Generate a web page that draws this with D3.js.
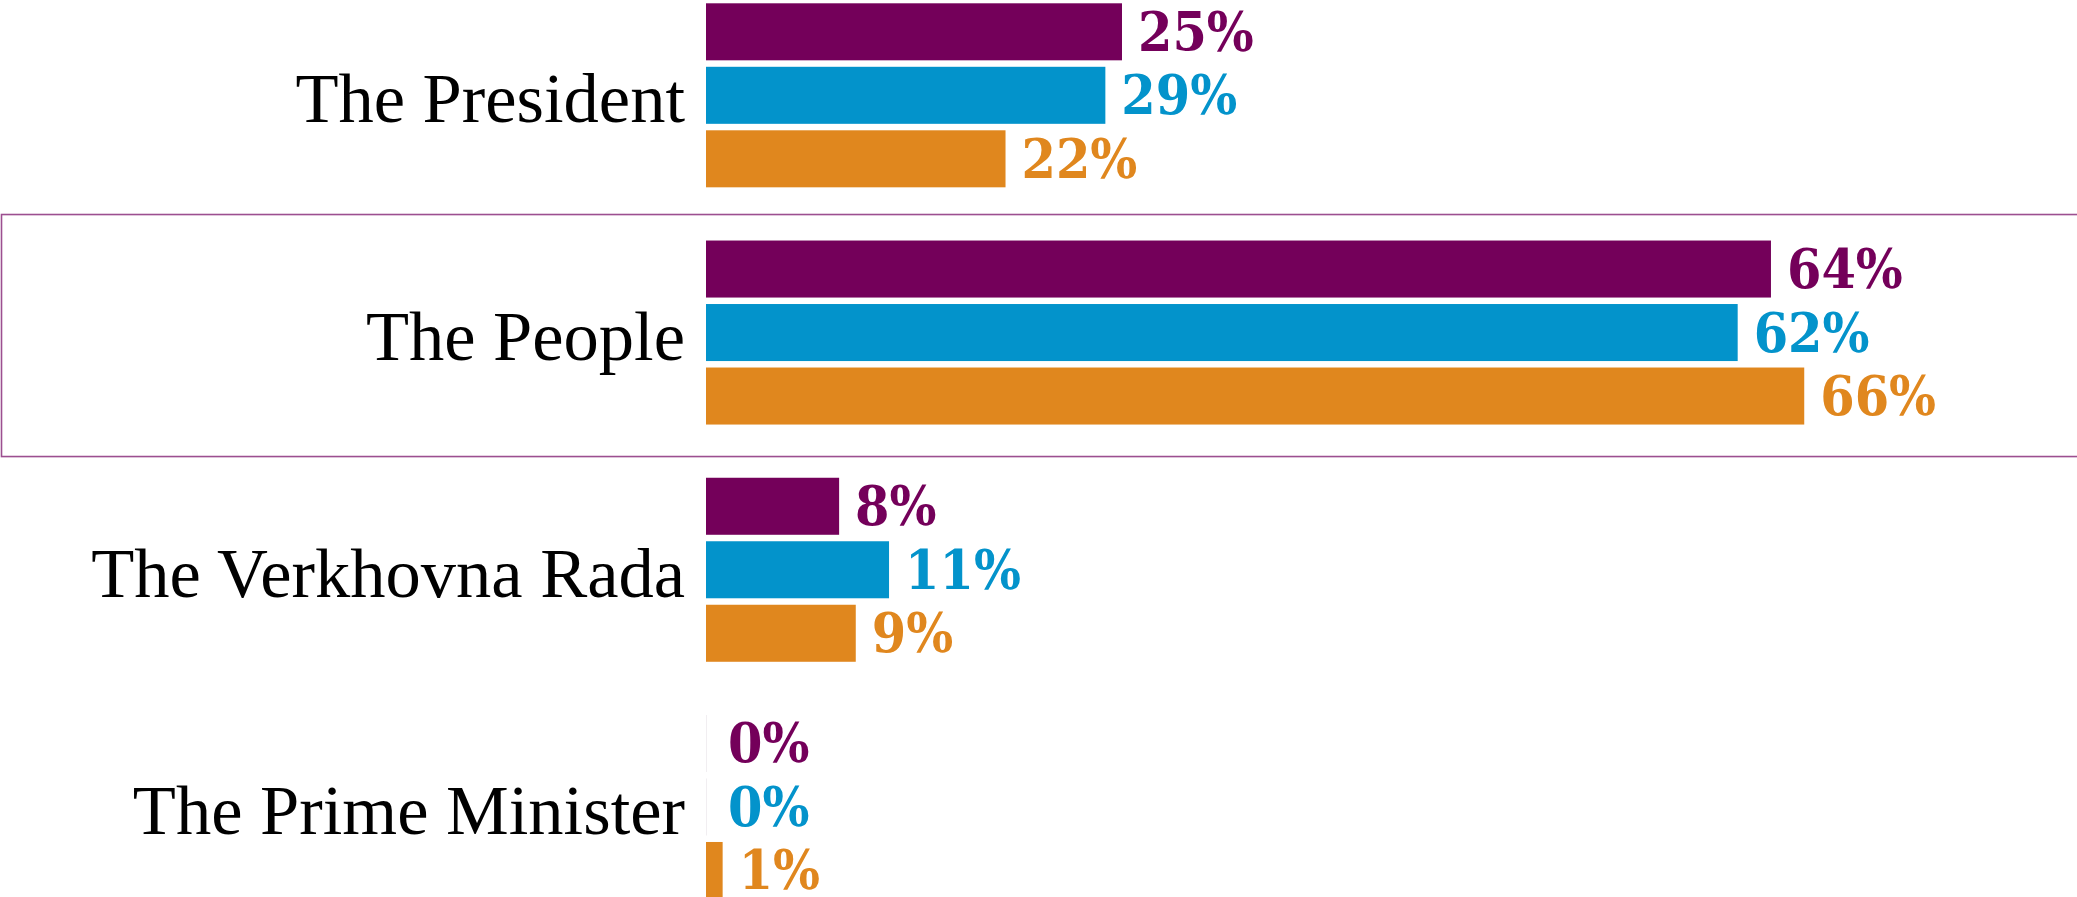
<!DOCTYPE html>
<html>
<head>
<meta charset="utf-8">
<script src="https://cdn.jsdelivr.net/npm/d3@7"></script>
<style>
  body { margin: 0; background: #fff; }
  svg { display: block; }
  .cat-label { font-family: "Liberation Serif", "Times New Roman", serif; font-size: 70.5px; fill: #000; }
  .value-label { font-family: "DejaVu Serif Condensed", "DejaVu Serif", serif; font-weight: bold; font-size: 55px; }
</style>
</head>
<body>
<div id="chart"></div>
<script>
const width = 2077;
const height = 897;

const categories = ["The President", "The People", "The Verkhovna Rada", "The Prime Minister"];
const series = ["s1", "s2", "s3"];

// bar lengths as drawn (percent)
const s1Values = [25, 64, 8, 0];
const s2Values = [24, 62, 11, 0];
const s3Values = [18, 66, 9, 1];

// labels as printed next to the bars
const s1Labels = ["25%", "64%", "8%", "0%"];
const s2Labels = ["29%", "62%", "11%", "0%"];
const s3Labels = ["22%", "66%", "9%", "1%"];

const highlighted = "The People";

const seriesColors = {
  s1: "#74005a",
  s2: "#0393cb",
  s3: "#e0871e",
};

const valuesBySeries = { s1: s1Values, s2: s2Values, s3: s3Values };
const labelsBySeries = { s1: s1Labels, s2: s2Labels, s3: s3Labels };

const rows = categories.flatMap((cat, i) =>
  series.map(s => ({
    category: cat,
    series: s,
    value: valuesBySeries[s][i],
    label: labelsBySeries[s][i],
  }))
);

const svg = d3
  .select("#chart")
  .append("svg")
  .attr("width", width)
  .attr("height", height);

const x = d3.scaleLinear().domain([0, 100]).range([706, 706 + 1664]);

const y = d3
  .scaleBand()
  .domain(categories)
  .range([3.3, 899])
  .paddingInner(0.2243)
  .paddingOuter(0);

const yInner = d3
  .scaleBand()
  .domain(series)
  .range([0, y.bandwidth()])
  .paddingInner(0.102);

// highlight box round one category
svg.append("rect")
  .attr("x", 1.5)
  .attr("y", y(highlighted) - 26)
  .attr("width", width + 10)
  .attr("height", y.bandwidth() + 58)
  .attr("fill", "none")
  .attr("stroke", "#9c4f90")
  .attr("stroke-width", 1.6);

svg.selectAll(".cat-label")
  .data(categories)
  .join("text")
  .attr("class", "cat-label")
  .attr("x", 685)
  .attr("y", d => y(d) + y.bandwidth() / 2 + 27)
  .attr("text-anchor", "end")
  .text(d => d);

// faint hairline where a bar has zero length
svg.selectAll(".zero-line")
  .data(rows.filter(d => d.value === 0))
  .join("line")
  .attr("class", "zero-line")
  .attr("x1", x(0) + 0.5)
  .attr("x2", x(0) + 0.5)
  .attr("y1", d => y(d.category) + yInner(d.series))
  .attr("y2", d => y(d.category) + yInner(d.series) + yInner.bandwidth())
  .attr("stroke", "#f1eef1")
  .attr("stroke-width", 1);

svg.selectAll(".bar")
  .data(rows)
  .join("rect")
  .attr("class", "bar")
  .attr("x", x(0))
  .attr("y", d => y(d.category) + yInner(d.series))
  .attr("width", d => x(d.value) - x(0))
  .attr("height", yInner.bandwidth())
  .attr("fill", d => seriesColors[d.series]);

svg.selectAll(".value-label")
  .data(rows)
  .join("text")
  .attr("class", "value-label")
  .attr("x", d => x(d.value) + (d.value === 0 ? 22 : 16))
  .attr("y", d => y(d.category) + yInner(d.series) + yInner.bandwidth() / 2 + 19)
  .attr("fill", d => seriesColors[d.series])
  .text(d => d.label);
</script>
</body>
</html>
